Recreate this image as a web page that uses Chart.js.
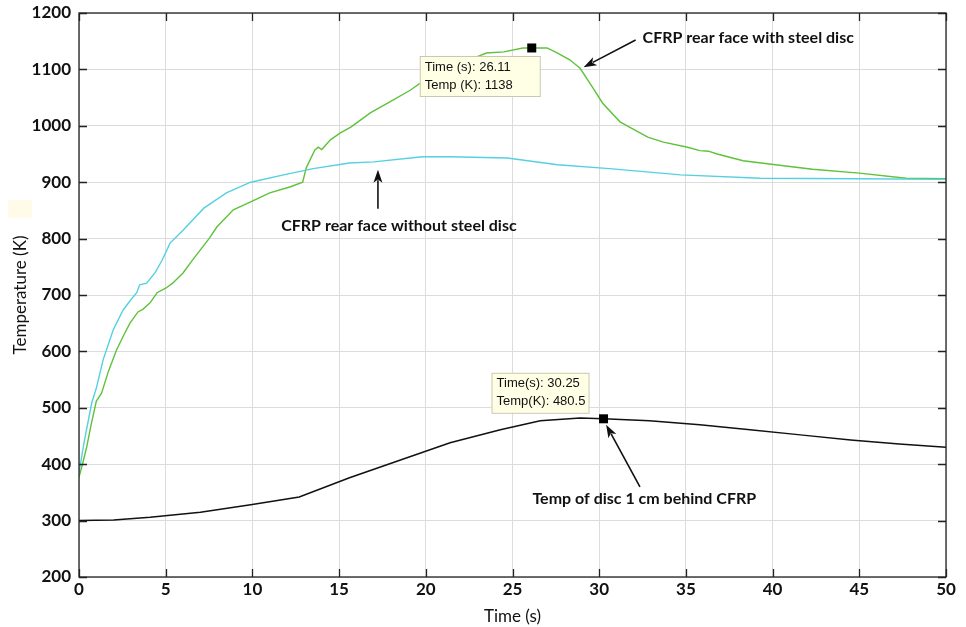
<!DOCTYPE html>
<html>
<head>
<meta charset="utf-8">
<script src="https://cdn.jsdelivr.net/npm/chart.js@4"></script>
<style>
  html, body { margin: 0; padding: 0; background: #fff; }
  #wrap { width: 966px; height: 627px; position: relative; }
</style>
</head>
<body>
<div id="wrap"><canvas id="canvas" width="966" height="627"></canvas></div>
<script>
// data
const withDiscTime = [0, 0.2, 0.44, 0.7, 1.0, 1.3, 1.7, 2.17, 2.6, 2.94, 3.4, 3.7, 4.1, 4.5, 5.0, 5.4, 6.0, 6.5, 7.0, 7.5, 7.96, 8.9, 9.9, 11.0, 12.2, 12.9, 13.1, 13.6, 13.8, 14.0, 14.5, 15.05, 15.7, 16.8, 17.9, 19.1, 19.7, 20.5, 21.5, 22.5, 23.5, 24.5, 25.6, 26.11, 27.0, 27.6, 28.3, 28.9, 29.6, 30.2, 31.2, 32.8, 33.7, 35.1, 35.8, 36.3, 36.8, 38.3, 40.4, 42.3, 45.0, 47.7, 50];
const withDiscTemp = [377, 400, 430, 470, 512, 526, 565, 603, 630, 650, 670, 675, 686, 704, 712, 721, 739, 760, 780, 800, 821, 851, 865, 881, 892, 900, 925, 957, 962, 958, 975, 987, 998, 1023, 1042, 1063, 1076, 1090, 1103, 1117, 1129, 1131, 1138, 1138, 1138, 1129, 1117, 1102, 1069, 1040, 1007, 980, 971, 962, 956, 955, 950, 938, 930, 923, 916, 907, 906];

const noDiscTime = [0, 0.3, 0.73, 1.0, 1.39, 1.97, 2.54, 3.0, 3.33, 3.5, 3.9, 4.4, 4.8, 5.25, 6.0, 7.2, 8.5, 9.9, 11.8, 13.5, 15.6, 17.0, 19.8, 21.4, 24.7, 27.6, 30.6, 34.7, 39.3, 45.0, 50];
const noDiscTemp = [385, 440, 508, 535, 585, 638, 673, 692, 704, 718, 721, 740, 762, 792, 815, 854, 881, 900, 913, 924, 934, 936, 945, 945, 943, 931, 924, 913, 907, 906, 905];

const discTime = [0, 2, 4.1, 7, 9.9, 12.7, 15.6, 18.5, 21.4, 24.3, 26.6, 28.9, 30.25, 32.9, 35.8, 38.7, 41.6, 44.5, 47.3, 50];
const discTemp = [300, 301, 306, 315, 328, 342, 376, 407, 438, 461, 477, 482, 480.5, 477, 470, 461, 452, 443, 436, 430];

const xTicks = [0, 5, 10, 15, 20, 25, 30, 35, 40, 45, 50];
const yTicks = [200, 300, 400, 500, 600, 700, 800, 900, 1000, 1100, 1200];

// data tips: [time, temp, line1, line2]
const dataTips = [
  [26.11, 1138, "Time (s): 26.11", "Temp (K): 1138"],
  [30.25, 480.5, "Time(s): 30.25", "Temp(K): 480.5"]
];

// text labels with arrows: text, text x/y (data), align, arrow from, arrow to (data)
const notes = [
  ["CFRP rear face with steel disc", 32.5, 1156, "left", [32.1, 1152], [29.1, 1104]],
  ["CFRP rear face without steel disc", 18.45, 822, "center", [17.24, 853], [17.24, 922]],
  ["Temp of disc 1 cm behind CFRP", 32.6, 338, "center", [32.35, 360], [30.4, 470]]
];

function pts(xs, ys) {
  return xs.map((x, i) => ({ x: x, y: ys[i] }));
}

function arrow(ctx, x1, y1, x2, y2) {
  const a = Math.atan2(y2 - y1, x2 - x1);
  const len = 13, w = 4.5;
  ctx.beginPath();
  ctx.moveTo(x1, y1);
  ctx.lineTo(x2 - Math.cos(a) * len * 0.8, y2 - Math.sin(a) * len * 0.8);
  ctx.stroke();
  ctx.beginPath();
  ctx.moveTo(x2, y2);
  ctx.lineTo(x2 - Math.cos(a) * len - Math.sin(a) * w, y2 - Math.sin(a) * len + Math.cos(a) * w);
  ctx.lineTo(x2 - Math.cos(a) * len * 0.75, y2 - Math.sin(a) * len * 0.75);
  ctx.lineTo(x2 - Math.cos(a) * len + Math.sin(a) * w, y2 - Math.sin(a) * len - Math.cos(a) * w);
  ctx.closePath();
  ctx.fill();
}

const extras = {
  id: "extras",
  afterDraw(chart) {
    const ctx = chart.ctx;
    const area = chart.chartArea;
    const xs = chart.scales.x, ys = chart.scales.y;
    ctx.save();

    // box and inward ticks
    ctx.strokeStyle = "#222";
    ctx.lineWidth = 1.3;
    ctx.strokeRect(area.left, area.top, area.right - area.left, area.bottom - area.top);
    ctx.beginPath();
    xTicks.forEach(t => {
      const px = Math.round(xs.getPixelForValue(t)) + 0.5;
      ctx.moveTo(px, area.bottom); ctx.lineTo(px, area.bottom - 8);
      ctx.moveTo(px, area.top); ctx.lineTo(px, area.top + 8);
    });
    yTicks.forEach(v => {
      const py = Math.round(ys.getPixelForValue(v)) + 0.5;
      ctx.moveTo(area.left, py); ctx.lineTo(area.left + 8, py);
      ctx.moveTo(area.right, py); ctx.lineTo(area.right - 8, py);
    });
    ctx.stroke();

    // small pale patch at left edge
    ctx.fillStyle = "#fffbe8";
    ctx.fillRect(8, 200, 24, 18);

    // arrows and labels
    ctx.strokeStyle = "#111";
    ctx.fillStyle = "#111";
    ctx.lineWidth = 1.6;
    ctx.font = "bold 16px Lato";
    ctx.textBaseline = "middle";
    notes.forEach(n => {
      ctx.textAlign = n[3];
      ctx.fillText(n[0], xs.getPixelForValue(n[1]), ys.getPixelForValue(n[2]));
      arrow(ctx, xs.getPixelForValue(n[4][0]), ys.getPixelForValue(n[4][1]),
        xs.getPixelForValue(n[5][0]), ys.getPixelForValue(n[5][1]));
    });

    // data tips
    dataTips.forEach((d, i) => {
      const px = xs.getPixelForValue(d[0]);
      const py = ys.getPixelForValue(d[1]);
      ctx.fillStyle = "#000";
      ctx.fillRect(px - 4.5, py - 4.5, 9, 9);
      const bw = i === 0 ? 120 : 97;
      const bx = px - 112;
      const by = i === 0 ? py + 8 : py - 46;
      ctx.fillStyle = "#ffffe6";
      ctx.strokeStyle = "#c8c8b0";
      ctx.lineWidth = 1;
      ctx.fillRect(bx, by, bw, 40);
      ctx.strokeRect(bx + 0.5, by + 0.5, bw, 40);
      ctx.fillStyle = "#111";
      ctx.font = "13px 'Liberation Sans'";
      ctx.textAlign = "left";
      ctx.fillText(d[2], bx + 5, by + 11);
      ctx.fillText(d[3], bx + 5, by + 29);
    });
    ctx.restore();
  }
};

const config = {
  type: "line",
  data: {
    datasets: [
      {
        label: "CFRP rear face without steel disc",
        data: pts(noDiscTime, noDiscTemp),
        borderColor: "#55d0e0",
        borderWidth: 1.4,
        pointRadius: 0,
        tension: 0
      },
      {
        label: "CFRP rear face with steel disc",
        data: pts(withDiscTime, withDiscTemp),
        borderColor: "#5ec23a",
        borderWidth: 1.4,
        pointRadius: 0,
        tension: 0
      },
      {
        label: "Temp of disc 1 cm behind CFRP",
        data: pts(discTime, discTemp),
        borderColor: "#111",
        borderWidth: 1.5,
        pointRadius: 0,
        tension: 0
      }
    ]
  },
  options: {
    responsive: false,
    animation: false,
    layout: { padding: { top: 0, right: 20, left: 0, bottom: 0 } },
    plugins: {
      legend: { display: false },
      tooltip: { enabled: false }
    },
    scales: {
      x: {
        type: "linear",
        min: 0,
        max: 50,
        afterBuildTicks: (s) => { s.ticks = xTicks.map(v => ({ value: v })); },
        afterFit: (s) => { s.height = 50; },
        ticks: { color: "#111", font: { family: "Lato", size: 17, weight: "bold" }, padding: 2, maxRotation: 0 },
        grid: { color: "#dcdcdc", lineWidth: 1, drawTicks: false },
        border: { display: false },
        title: { display: true, text: "Time (s)", color: "#111", font: { family: "Lato", size: 17 }, padding: { top: 0, bottom: 0 } }
      },
      y: {
        min: 200,
        max: 1200,
        afterBuildTicks: (s) => { s.ticks = yTicks.map(v => ({ value: v })); },
        afterFit: (s) => { s.width = 79; s.paddingTop = 13; },
        ticks: { color: "#111", font: { family: "Lato", size: 17, weight: "bold", lineHeight: 1 }, padding: 8, callback: (v) => String(v) },
        grid: { color: "#dcdcdc", lineWidth: 1, drawTicks: false },
        border: { display: false },
        title: { display: true, text: "Temperature (K)", color: "#111", font: { family: "Lato", size: 17 }, padding: { top: 10, bottom: 4 } }
      }
    }
  },
  plugins: [extras]
};

const myChart = new Chart(document.getElementById("canvas"), config);
</script>
</body>
</html>
